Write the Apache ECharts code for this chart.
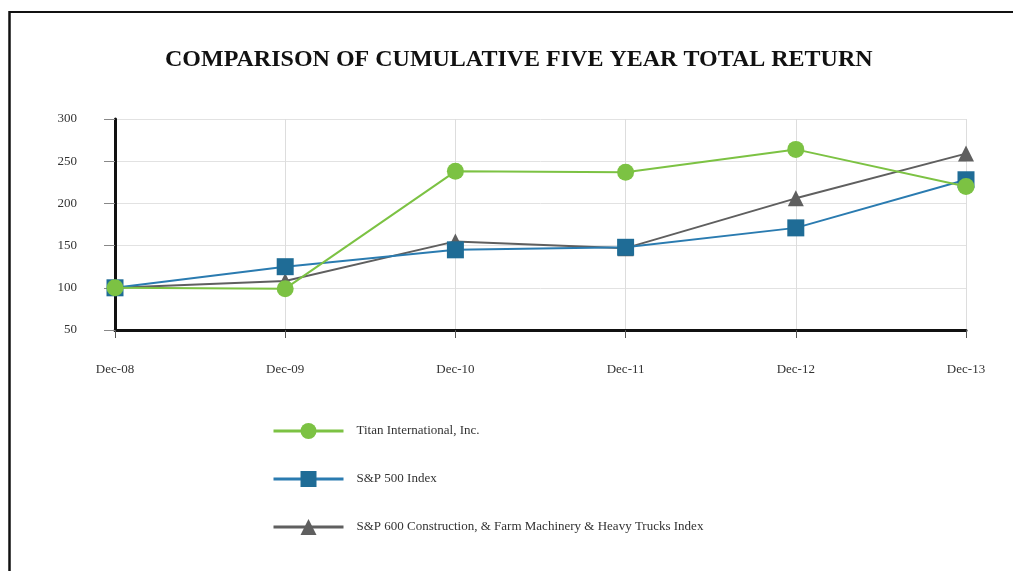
<!DOCTYPE html>
<html>
<head>
<meta charset="utf-8">
<script src="https://cdn.jsdelivr.net/npm/echarts@6/dist/echarts.min.js"></script>
<style>
html,body{margin:0;padding:0;background:#fff;}
#chart{width:1013px;height:571px;}
</style>
</head>
<body>
<div id="chart"></div>
<script>
var categories = ['Dec-08', 'Dec-09', 'Dec-10', 'Dec-11', 'Dec-12', 'Dec-13'];
var titanValues = [100, 99, 238, 237, 264, 220];
var sp500Values = [100, 125, 145, 148, 171, 228];
var sp600Values = [100, 108, 155, 147, 206, 259];
var seriesNames = ['Titan International, Inc.', 'S&P 500 Index', 'S&P 600 Construction, & Farm Machinery & Heavy Trucks Index'];
var yTicks = [50, 100, 150, 200, 250, 300];

var font = 'Liberation Serif, Times New Roman, serif';
var chart = echarts.init(document.getElementById('chart'));
chart.setOption({
  animation: false,
  backgroundColor: '#fff',
  title: {
    text: 'COMPARISON OF CUMULATIVE FIVE YEAR TOTAL RETURN',
    left: 160,
    top: 43,
    textStyle: { fontFamily: font, fontSize: 24, fontWeight: 'bold', color: '#111' }
  },
  graphic: [
    { type: 'line', shape: { x1: 9.5, y1: 11, x2: 9.5, y2: 571 }, style: { stroke: '#111', lineWidth: 2.5 } },
    { type: 'line', shape: { x1: 9, y1: 12, x2: 1013, y2: 12 }, style: { stroke: '#111', lineWidth: 2 } }
  ],
  legend: {
    orient: 'vertical',
    left: 267,
    top: 418,
    itemWidth: 70,
    itemHeight: 20,
    itemGap: 32,
    lineStyle: { width: 3 },
    textStyle: { fontFamily: font, fontSize: 13, color: '#333', padding: [0, 0, 0, 8] },
    data: seriesNames
  },
  grid: { left: 115, right: 47, top: 119, bottom: 241 },
  xAxis: {
    type: 'category',
    data: categories,
    boundaryGap: false,
    axisLine: { lineStyle: { color: '#111', width: 3 } },
    axisTick: { show: true, length: 8, lineStyle: { color: '#555' } },
    axisLabel: { fontFamily: font, fontSize: 13, color: '#333', margin: 33 },
    splitLine: { show: true, lineStyle: { color: '#ddd' } }
  },
  yAxis: {
    type: 'value',
    min: yTicks[0],
    max: yTicks[yTicks.length - 1],
    interval: 50,
    axisLine: { show: true, lineStyle: { color: '#111', width: 3 } },
    axisTick: { show: true, length: 11, lineStyle: { color: '#888' } },
    axisLabel: { fontFamily: font, fontSize: 13, color: '#333', margin: 38 },
    splitLine: { show: true, lineStyle: { color: '#e2e2e2' } }
  },
  series: [
    {
      name: seriesNames[0], type: 'line', data: titanValues,
      symbol: 'circle', symbolSize: 17, z: 5,
      itemStyle: { color: '#7cc243' },
      lineStyle: { color: '#7cc243', width: 2 }
    },
    {
      name: seriesNames[1], type: 'line', data: sp500Values,
      symbol: 'rect', symbolSize: 17, z: 4,
      itemStyle: { color: '#1f6c96' },
      lineStyle: { color: '#2a7bb0', width: 2 }
    },
    {
      name: seriesNames[2], type: 'line', data: sp600Values,
      symbol: 'triangle', symbolSize: 16, z: 3,
      itemStyle: { color: '#5f5f5f' },
      lineStyle: { color: '#5f5f5f', width: 2 }
    }
  ]
});
</script>
</body>
</html>
